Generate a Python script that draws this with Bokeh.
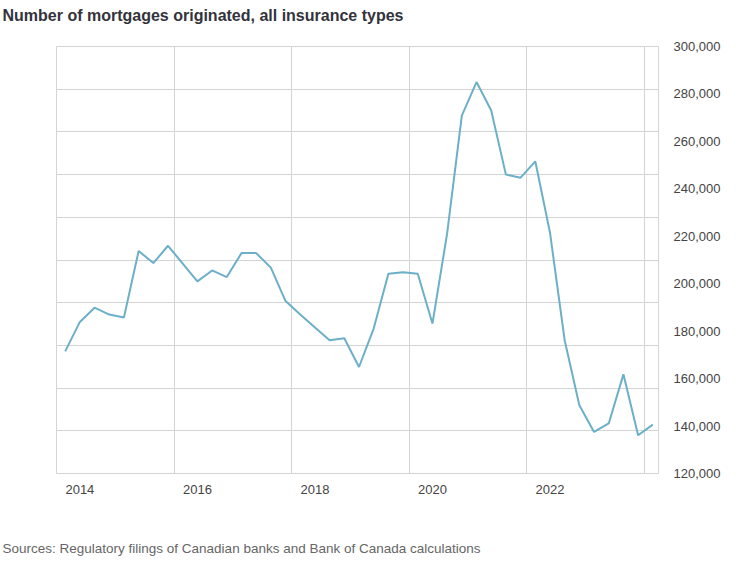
from bokeh.plotting import figure
from bokeh.models import (Range1d, FixedTicker, LinearAxis, NumeralTickFormatter,
                          PrintfTickFormatter, Title)
from bokeh.embed import file_html
from bokeh.resources import INLINE

# ---- data (quarterly, 2013Q3 .. 2023Q3) ----
quarters = ["2013Q3", "2013Q4",
            "2014Q1", "2014Q2", "2014Q3", "2014Q4",
            "2015Q1", "2015Q2", "2015Q3", "2015Q4",
            "2016Q1", "2016Q2", "2016Q3", "2016Q4",
            "2017Q1", "2017Q2", "2017Q3", "2017Q4",
            "2018Q1", "2018Q2", "2018Q3", "2018Q4",
            "2019Q1", "2019Q2", "2019Q3", "2019Q4",
            "2020Q1", "2020Q2", "2020Q3", "2020Q4",
            "2021Q1", "2021Q2", "2021Q3", "2021Q4",
            "2022Q1", "2022Q2", "2022Q3", "2022Q4",
            "2023Q1", "2023Q2", "2023Q3"]
mortgages = [171500, 183900,
             189900, 187000, 185800, 213800,
             208700, 216000, 208500, 201000,
             205600, 202800, 212900, 212900,
             206800, 192700, 187000, 181500,
             176200, 177000, 164900, 181100,
             204200, 204800, 204200, 183200,
             221200, 270900, 285000, 273000,
             246000, 244700, 251600, 221600,
             176200, 148800, 137500, 141100,
             161800, 136100, 140600]
year_ticks = [2014, 2016, 2018, 2020, 2022]
value_ticks = [120000, 140000, 160000, 180000, 200000, 220000, 240000, 260000, 280000, 300000]

title_text = "Number of mortgages originated, all insurance types"
source_text = "Sources: Regulatory filings of Canadian banks and Bank of Canada calculations"

# quarter-end positions in fractional years
xs = [int(q[:4]) + int(q[5]) * 0.25 for q in quarters]

x_start, x_end = 2013.602, 2023.847
y_start, y_end = 120000, 300000

p = figure(frame_width=602, frame_height=427,
           min_border_left=56, min_border_right=84,
           min_border_top=46, min_border_bottom=60,
           x_range=Range1d(x_start, x_end), y_range=Range1d(y_start, y_end),
           output_backend="svg", toolbar_location=None,
           x_axis_location="below", y_axis_location=None)

grid_col = "#d4d4d4"
p.outline_line_color = grid_col
p.outline_line_width = 1

# decorative grid: 5 vertical, 10 horizontal divisions
p.xgrid.ticker = FixedTicker(ticks=[x_start + 2 * k for k in range(1, 6)])
p.ygrid.ticker = FixedTicker(ticks=[y_start + (y_end - y_start) / 10 * k for k in range(1, 10)])
p.xgrid.grid_line_color = grid_col
p.ygrid.grid_line_color = grid_col

# x axis
xa = p.xaxis[0]
xa.ticker = FixedTicker(ticks=year_ticks)
xa.formatter = PrintfTickFormatter(format="%d")
xa.axis_line_color = None
xa.major_tick_line_color = None
xa.minor_tick_line_color = None
xa.major_tick_out = 0
xa.major_label_standoff = 11
xa.major_label_text_font = "Liberation Sans"
xa.major_label_text_font_size = "13px"
xa.major_label_text_color = "#444444"

# right y axis
ya = LinearAxis(ticker=FixedTicker(ticks=value_ticks),
                formatter=NumeralTickFormatter(format="0,0"))
ya.axis_line_color = None
ya.major_tick_line_color = None
ya.minor_tick_line_color = None
ya.major_tick_out = 0
ya.major_label_standoff = 15
ya.major_label_text_font = "Liberation Sans"
ya.major_label_text_font_size = "13px"
ya.major_label_text_color = "#444444"
p.add_layout(ya, "right")

p.line(xs, mortgages, line_color="#6cafc9", line_width=2)

# spacer between frame and title (empty text panel)
p.add_layout(Title(text=" ", text_font_size="8px", standoff=10), "above")
p.title = Title(text=title_text, align="left", offset=-54, standoff=4,
                text_font="Liberation Sans", text_font_size="16px", text_font_style="bold",
                text_color="#33333b")

# spacer between axis labels and source note
p.add_layout(Title(text=" ", text_font_size="10px", standoff=28), "below")
src = Title(text=source_text, align="left", offset=-54, standoff=2,
            text_font="Liberation Sans", text_font_size="13.5px", text_font_style="normal",
            text_color="#666666")
p.add_layout(src, "below")

open("out.html", "w").write(file_html(p, INLINE))
